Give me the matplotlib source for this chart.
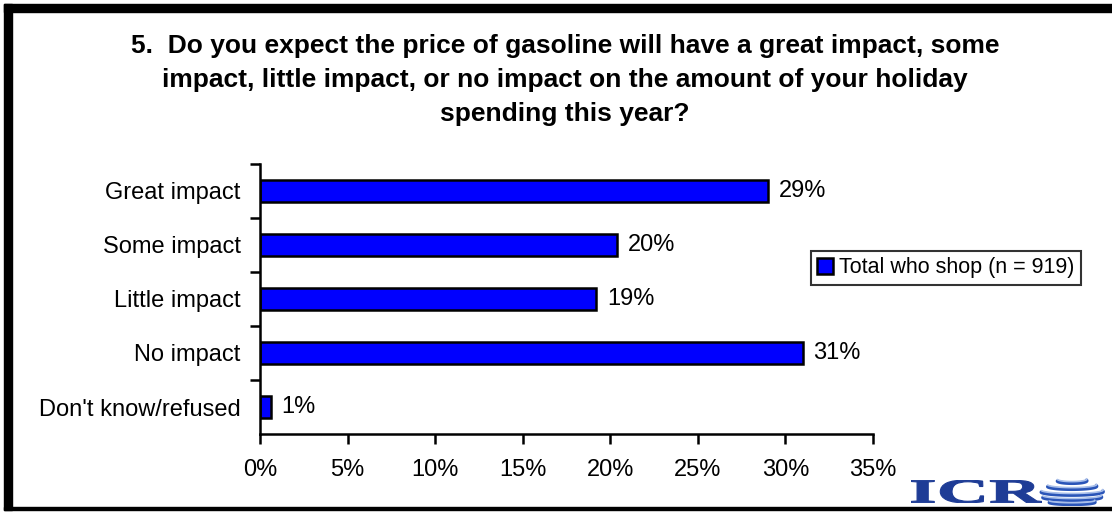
import matplotlib
matplotlib.use("Agg")
import numpy as np
import matplotlib.pyplot as plt
from matplotlib.patches import Rectangle, PathPatch
from matplotlib.textpath import TextPath
from matplotlib.font_manager import FontProperties

plt.rcParams['font.family'] = ['Liberation Sans', 'DejaVu Sans']

title_lines = ["5.  Do you expect the price of gasoline will have a great impact, some",
               "impact, little impact, or no impact on the amount of your holiday",
               "spending this year?"]
categories = ["Great impact", "Some impact", "Little impact", "No impact", "Don't know/refused"]
values = [29.0, 20.4, 19.2, 31.0, 0.6]
series_name = "Total who shop (n = 919)"
xticks = [0, 5, 10, 15, 20, 25, 30, 35]

W, H = 1112, 512
fig = plt.figure(figsize=(W / 100, H / 100), dpi=100)
fig.patch.set_facecolor("white")


def fig_box(x0, y0, x1, y1):
    """Pixel box (top-left origin) to figure-fraction rect."""
    return [x0 / W, 1 - y1 / H, (x1 - x0) / W, (y1 - y0) / H]


# page frame: heavy top/left edges, thin bottom edge
for x0, y0, x1, y1 in [(4, 4, W, 12), (4, 4, 12, 510), (4, 507, W, 510)]:
    r = fig_box(x0, y0, x1, y1)
    fig.patches.append(Rectangle((r[0], r[1]), r[2], r[3],
                                 transform=fig.transFigure, color="black", zorder=0))

# three-line question heading, one line every 34 px
for i, line in enumerate(title_lines):
    fig.text(565 / W, 1 - (46 + 34 * i) / H, line, ha="center", va="center",
             fontsize=19, fontweight="bold")

ax = fig.add_axes(fig_box(260, 164, 873, 434))
ypos = list(range(len(categories)))
ax.barh(ypos, values, height=0.4, color="#0000FF", edgecolor="black",
        linewidth=1.8, label=series_name)
for y, v in zip(ypos, values):
    ax.text(v + 0.6, y, f"{int(v + 0.5)}%", va="center", ha="left", fontsize=17)

ax.set_ylim(len(categories) - 0.5, -0.5)
ax.set_xlim(0, 35)
ax.set_xticks(xticks)
ax.set_xticklabels([f"{t}%" for t in xticks], fontsize=17)
ax.set_yticks([y - 0.5 for y in ypos])
ax.set_yticklabels([])
ax.set_yticks(ypos, minor=True)
ax.set_yticklabels(categories, minor=True, fontsize=17)
ax.tick_params(axis="y", which="minor", length=0, pad=14)
ax.tick_params(axis="y", which="major", length=7, width=1.8, direction="out")
ax.tick_params(axis="x", length=7, width=1.8, direction="out", pad=11)
for s in ("top", "right"):
    ax.spines[s].set_visible(False)
for s in ("left", "bottom"):
    ax.spines[s].set_linewidth(1.8)

leg = ax.legend(loc="center left", bbox_to_anchor=(551 / 613, 1 - 104 / 270),
                frameon=True, fancybox=False, fontsize=15.5, handlelength=0.7,
                handleheight=0.7, handletextpad=0.3, borderpad=0.3,
                borderaxespad=0)
leg.get_frame().set_edgecolor("black")
leg.get_frame().set_linewidth(1.5)

# ICR logo: wide serif lettering followed by a striped globe
lax = fig.add_axes(fig_box(911, 480, 1042, 503))
tp = TextPath((0, 0), "ICR", size=10,
              prop=FontProperties(family="Liberation Serif", weight="bold"))
bb = tp.get_extents()
lax.add_patch(PathPatch(tp, facecolor="#1E3C96", edgecolor="#1E3C96", lw=0.8))
lax.set_xlim(bb.x0, bb.x1)
lax.set_ylim(bb.y0, bb.y1)
lax.axis("off")

gax = fig.add_axes(fig_box(1036, 476, 1108, 506))
gax.set_xlim(-1.1, 1.1)
gax.set_ylim(-1.1, 1.1)
gax.axis("off")
t = np.linspace(np.pi * 0.05, np.pi * 1.05, 80)
for cy, rx, ry in [(0.75, 0.45, 0.18), (0.35, 0.75, 0.22), (-0.05, 0.95, 0.25),
                   (-0.45, 0.9, 0.22), (-0.82, 0.7, 0.16)]:
    xs = -rx * np.cos(t)
    ys = cy - ry * np.sin(t)
    gax.plot(xs, ys, color="#2A55B8", lw=2.6, solid_capstyle="round")
    gax.plot(xs, ys + 0.12, color="#A9BFEA", lw=1.2, solid_capstyle="round")

fig.savefig("out.png", dpi=100, facecolor="white")
